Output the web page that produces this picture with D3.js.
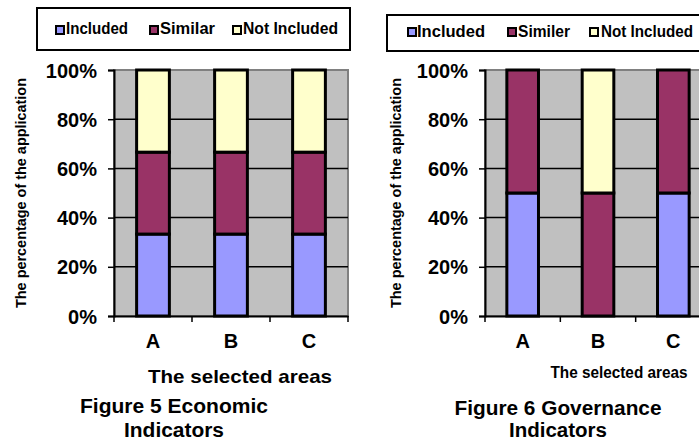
<!DOCTYPE html>
<html>
<head>
<meta charset="utf-8">
<script src="https://cdn.jsdelivr.net/npm/d3@7"></script>
<style>
  html, body { margin: 0; padding: 0; background: #ffffff; }
  svg { display: block; }
  text { font-family: "Liberation Sans", Arial, sans-serif; font-weight: bold; fill: #000; }
</style>
</head>
<body>
<svg id="chart" width="699" height="441"></svg>
<script>
// ---- data ----
const categories = ["A", "B", "C"];
const seriesNames = ["Included", "Similar", "Not Included"];
const seriesNamesGov = ["Included", "Similer", "Not Included"];
const econIncluded = [33.3, 33.3, 33.3];
const econSimilar = [33.3, 33.3, 33.3];
const econNotIncluded = [33.4, 33.4, 33.4];
const govIncluded = [50, 0, 50];
const govSimilar = [50, 50, 50];
const govNotIncluded = [0, 50, 0];
const yTicks = [0, 20, 40, 60, 80, 100];
const yTickLabels = ["0%", "20%", "40%", "60%", "80%", "100%"];
const colors = ["#9999ff", "#993366", "#ffffcc"];
const yTitle = "The percentage of the application";
const xTitle = "The selected areas";
const caption5 = ["Figure 5 Economic", "Indicators"];
const caption6 = ["Figure  6 Governance", "Indicators"];

const svg = d3.select("#chart");

function drawChart(cfg) {
  const g = svg.append("g");
  const rows = categories.map((c, i) => ({
    cat: c, s0: cfg.series[0][i], s1: cfg.series[1][i], s2: cfg.series[2][i]
  }));
  const stack = d3.stack().keys(["s0", "s1", "s2"])(rows);

  const x = d3.scaleBand().domain(categories).range([cfg.x0, cfg.x1])
    .paddingInner(0.58).paddingOuter(0.29);
  const y = d3.scaleLinear().domain([0, 100]).range([cfg.yBot, cfg.yTop]);

  // plot background
  g.append("rect").attr("x", cfg.x0).attr("y", cfg.yTop)
    .attr("width", cfg.x1 - cfg.x0).attr("height", cfg.yBot - cfg.yTop)
    .attr("fill", "#c0c0c0").attr("stroke", "#808080").attr("stroke-width", 2);

  // gridlines
  g.append("g").selectAll("line").data(yTicks.filter(t => t > 0 && t < 100)).join("line")
    .attr("x1", cfg.x0).attr("x2", cfg.x1)
    .attr("y1", d => y(d)).attr("y2", d => y(d))
    .attr("stroke", "#000").attr("stroke-width", 1.5);

  // bars
  stack.forEach((layer, li) => {
    g.append("g").selectAll("rect").data(layer.filter(d => d[1] - d[0] > 0)).join("rect")
      .attr("x", d => x(d.data.cat))
      .attr("width", x.bandwidth())
      .attr("y", d => y(d[1]))
      .attr("height", d => y(d[0]) - y(d[1]))
      .attr("fill", colors[li])
      .attr("stroke", "#000").attr("stroke-width", 3);
  });

  // y axis
  const yAxis = d3.axisLeft(y).tickValues(yTicks).tickSize(6)
    .tickFormat((d, i) => yTickLabels[i]);
  const ya = g.append("g").attr("transform", `translate(${cfg.x0},0)`).call(yAxis);
  ya.select(".domain").attr("stroke", "#000").attr("stroke-width", 2);
  ya.selectAll(".tick line").attr("stroke", "#000").attr("stroke-width", 1.5);
  ya.selectAll(".tick text").attr("x", -17).attr("dy", "0.35em")
    .style("font-size", "20px").style("font-family", '"Liberation Sans", Arial, sans-serif')
    .style("font-weight", "bold").attr("fill", "#000");

  // x axis
  const xa = g.append("g").attr("transform", `translate(0,${cfg.yBot})`)
    .call(d3.axisBottom(x).tickSize(0).tickPadding(0));
  xa.select(".domain").attr("stroke", "#000").attr("stroke-width", 2);
  xa.selectAll(".tick text").attr("y", 32).attr("dy", 0)
    .style("font-size", "20px").style("font-family", '"Liberation Sans", Arial, sans-serif')
    .style("font-weight", "bold").attr("fill", "#000");
  // category boundary ticks
  const bounds = [cfg.x0].concat(categories.map(c => x(c) - x.step() * x.paddingInner() / 2 + x.step()));
  xa.append("g").selectAll("line").data(bounds).join("line")
    .attr("x1", d => d).attr("x2", d => d).attr("y1", 0).attr("y2", 6)
    .attr("stroke", "#000").attr("stroke-width", 1.5);

  // y title
  g.append("text")
    .attr("transform", `translate(${cfg.yTitleX},${(cfg.yTop + cfg.yBot) / 2 + 0})rotate(-90)`)
    .attr("text-anchor", "middle").style("font-size", "14px")
    .attr("textLength", 230).attr("lengthAdjust", "spacingAndGlyphs")
    .text(yTitle);

  // x title
  g.append("text").attr("x", cfg.xTitleX).attr("y", cfg.xTitleY)
    .attr("text-anchor", "middle").style("font-size", cfg.xTitleSize + "px")
    .attr("textLength", cfg.xTitleLen).attr("lengthAdjust", "spacingAndGlyphs")
    .text(xTitle);

  // caption
  cfg.caption.forEach((line, i) => {
    g.append("text").attr("x", cfg.capX).attr("y", cfg.capY[i])
      .attr("text-anchor", "middle").style("font-size", "20px")
      .attr("textLength", cfg.capLen[i]).attr("lengthAdjust", "spacingAndGlyphs")
      .text(line);
  });

  // legend
  const L = cfg.legend;
  g.append("rect").attr("x", L.x).attr("y", L.y).attr("width", L.w).attr("height", L.h)
    .attr("fill", "#fff").attr("stroke", "#000").attr("stroke-width", 2);
  const items = g.append("g").selectAll("g").data(cfg.names).join("g");
  items.append("rect")
    .attr("x", (d, i) => L.mx[i]).attr("y", L.my).attr("width", 8).attr("height", 8)
    .attr("fill", (d, i) => colors[i]).attr("stroke", "#000").attr("stroke-width", 2);
  items.append("text")
    .attr("x", (d, i) => L.tx[i]).attr("y", L.ty)
    .style("font-size", "16px")
    .attr("textLength", (d, i) => L.tl[i]).attr("lengthAdjust", "spacingAndGlyphs")
    .text(d => d);
}

drawChart({
  series: [econIncluded, econSimilar, econNotIncluded],
  names: seriesNames,
  x0: 114, x1: 348, yTop: 70, yBot: 316,
  yTitleX: 26,
  xTitleX: 240, xTitleY: 383, xTitleSize: 19, xTitleLen: 184,
  caption: caption5, capX: 174, capY: [413, 437], capLen: [188, 100],
  legend: { x: 37, y: 8, w: 313, h: 42, mx: [56, 150, 233], my: 26,
            tx: [66, 160, 243], ty: 34, tl: [62, 55, 95] }
});

drawChart({
  series: [govIncluded, govSimilar, govNotIncluded],
  names: seriesNamesGov,
  x0: 485, x1: 711, yTop: 70, yBot: 316,
  yTitleX: 401,
  xTitleX: 619, xTitleY: 378, xTitleSize: 16, xTitleLen: 137,
  caption: caption6, capX: 558, capY: [415, 437], capLen: [207, 98],
  legend: { x: 387, y: 15, w: 330, h: 36, mx: [408, 508, 590], my: 28,
            tx: [417, 518, 601], ty: 37, tl: [68, 52, 92] }
});
</script>
</body>
</html>
